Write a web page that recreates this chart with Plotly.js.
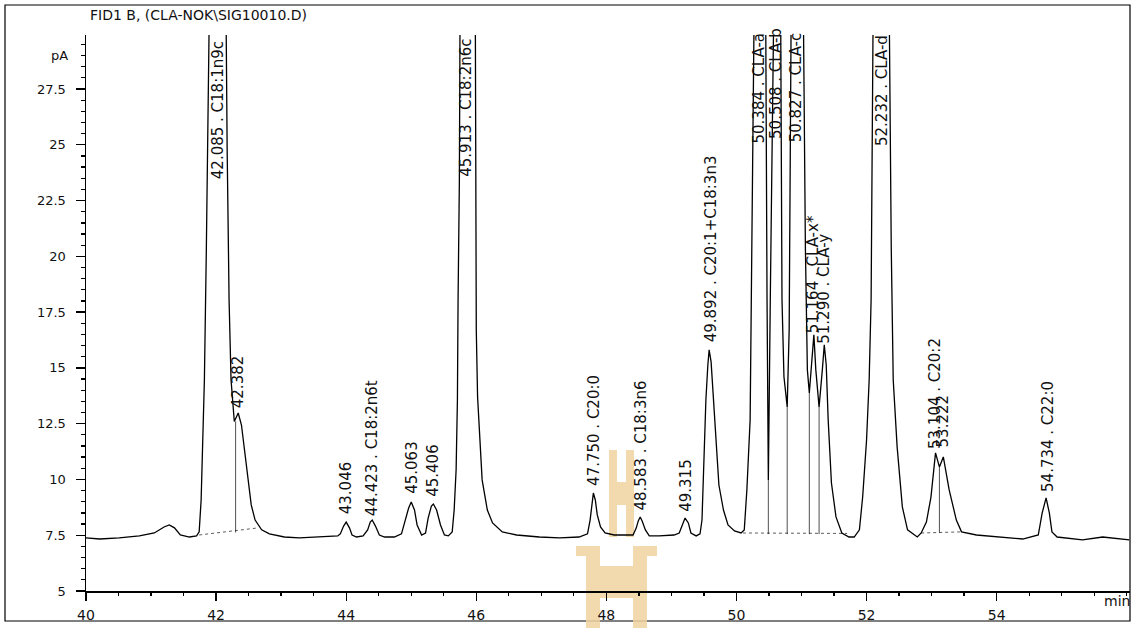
<!DOCTYPE html>
<html>
<head>
<meta charset="utf-8">
<script src="https://cdn.plot.ly/plotly-3.0.1.min.js"></script>
<style>html,body{margin:0;padding:0;background:#fff;}#chart{width:1133px;height:629px;}</style>
</head>
<body>
<div id="chart"></div>
<script>
// ---- data (time in min, signal in pA) ----
const retentionTime = [
40.00,40.21,40.51,40.82,41.05,41.20,41.28,41.36,41.45,41.59,41.70,
41.74,41.77,41.79,41.82,41.85,41.88,41.90,41.95,42.02,42.10,42.15,42.17,42.20,42.23,42.28,
42.34,42.39,42.44,42.48,42.54,42.60,42.70,42.82,43.05,43.28,43.59,43.87,
43.91,43.96,44.00,44.05,44.09,44.16,44.26,
44.33,44.37,44.40,44.45,44.51,44.59,44.74,44.85,
44.91,44.96,45.00,45.05,45.09,45.16,45.22,
45.26,45.31,45.34,45.39,45.45,45.51,45.57,
45.63,45.66,45.69,45.71,45.72,45.74,45.75,45.83,45.90,45.96,45.99,46.00,46.02,46.06,46.09,46.17,46.25,46.40,46.62,46.97,47.28,47.58,
47.71,47.75,47.78,47.80,47.83,47.86,47.91,47.98,48.12,48.27,48.41,
48.46,48.49,48.52,48.55,48.60,48.66,48.81,49.04,49.12,
49.17,49.21,49.26,49.30,49.38,49.44,
49.47,49.50,49.53,49.56,49.58,49.61,49.64,49.69,49.73,49.80,49.87,49.97,50.07,
50.12,50.16,50.21,50.24,50.27,50.35,50.45,50.47,50.49,50.52,50.54,50.61,50.68,50.70,50.73,50.78,
50.81,50.84,50.93,51.03,51.06,51.09,51.12,51.16,51.19,51.22,51.27,51.32,51.35,51.38,51.41,51.46,51.53,51.62,51.73,
51.81,51.89,51.94,52.00,52.04,52.07,52.10,52.20,52.28,52.35,52.38,52.41,52.47,52.55,52.63,52.78,
52.84,52.92,52.99,53.06,53.12,53.18,53.27,53.38,53.46,53.69,54.04,54.40,
54.64,54.70,54.76,54.81,54.85,54.93,55.32,55.63,56.04
];
const signalPA = [
7.38,7.33,7.38,7.47,7.60,7.87,7.96,7.83,7.51,7.42,7.47,
7.65,9.08,10.87,14.46,20.3,27.0,30.5,50,60,50,30.5,24.8,18.0,14.46,12.6,
12.98,12.44,11.3,10.2,8.86,8.18,7.74,7.56,7.42,7.38,7.42,7.47,
7.56,7.91,8.09,7.83,7.51,7.42,7.47,
7.74,8.09,8.18,7.91,7.51,7.42,7.42,7.56,
8.18,8.72,8.99,8.63,7.96,7.51,7.60,
8.27,8.81,8.90,8.63,7.96,7.51,7.47,
7.65,8.63,10.43,13.57,18.05,23.4,30.5,55,60,55,30.5,16.7,13.7,11.46,9.98,8.63,8.05,7.65,7.51,7.42,7.38,7.42,
7.56,8.18,9.08,9.39,9.08,8.41,7.87,7.60,7.51,7.51,7.51,
7.83,8.14,8.32,8.14,7.74,7.47,7.47,7.51,7.60,
8.00,8.27,8.05,7.60,7.47,7.56,
8.18,10.87,13.57,15.13,15.81,15.27,14.01,11.77,9.75,8.63,7.96,7.69,7.60,
7.74,9.53,12.67,20.3,30.5,45,30.5,18.05,9.98,18.05,30.5,40,30.5,18.05,14.6,13.25,
16.7,30.5,45,30.5,20.3,14.91,13.88,15.36,16.48,14.91,13.25,14.91,16.03,15.13,12.67,9.84,8.32,7.60,7.42,
7.42,7.74,9.21,11.77,14.46,18.05,30.5,60,60,30.5,20.3,14.46,11.46,8.77,7.74,7.42,
7.60,8.09,9.21,11.19,10.56,11.01,9.53,8.18,7.65,7.51,7.42,7.33,
7.51,8.50,9.17,8.50,7.65,7.42,7.29,7.42,7.29
];

// peak drop lines (time, valley signal, baseline signal)
const dropTime = [42.30, 50.49, 50.78, 51.12, 51.27, 53.12];
const dropTop  = [12.6, 9.98, 13.25, 13.88, 13.25, 10.56];
const dropBase = [7.62, 7.55, 7.55, 7.55, 7.55, 7.60];

// integration baselines (start time, start signal, end time, end signal)
const baseStartTime = [41.74, 50.10, 52.84];
const baseStartSig  = [7.51, 7.60, 7.60];
const baseEndTime   = [42.62, 51.70, 53.46];
const baseEndSig    = [7.82, 7.58, 7.65];

// peak annotations
const peakLabels = ["42.085 . C18:1n9c","42.382","43.046","44.423 . C18:2n6t","45.063","45.406",
  "45.913 . C18:2n6c","47.750 . C20:0","48.583 . C18:3n6","49.315","49.892 . C20:1+C18:3n3",
  "50.384 . CLA-a","50.508 . CLA-b","50.827 . CLA-c","51.164 . CLA-x*","51.290 . CLA-y",
  "52.232 . CLA-d","53.104 . C20:2","53.222","54.734 . C22:0"];
const labelTime = [42.02,42.33,44.01,44.40,45.00,45.34,45.85,47.80,48.54,49.23,49.60,
  50.35,50.61,50.92,51.19,51.35,52.23,53.06,53.19,54.78];
const labelSignal = [23.43,13.15,8.41,8.32,9.30,9.17,23.5,9.66,8.54,8.50,16.1,
  25.0,25.2,25.08,16.5,16.05,24.9,11.32,11.41,9.39];

const xTicks = [40,42,44,46,48,50,52,54];
const yTicks = [5,7.5,10,12.5,15,17.5,20,22.5,25,27.5];
const yTickText = ["5","7.5","10","12.5","15","17.5","20","22.5","25","27.5"];
const chartTitle = "FID1 B, (CLA-NOK\\SIG10010.D)";

// ---- build traces ----
const dropX = [], dropY = [];
dropTime.forEach((t, i) => { dropX.push(t, t, null); dropY.push(dropTop[i], dropBase[i], null); });
const baseX = [], baseY = [];
baseStartTime.forEach((t, i) => { baseX.push(t, baseEndTime[i], null); baseY.push(baseStartSig[i], baseEndSig[i], null); });

const traces = [
  {x: baseX, y: baseY, mode: 'lines', line: {color: '#333', width: 0.8, dash: 'dot'}, hoverinfo: 'skip'},
  {x: dropX, y: dropY, mode: 'lines', line: {color: '#222', width: 0.8}, hoverinfo: 'skip'},
  {x: retentionTime, y: signalPA, mode: 'lines', line: {color: '#000', width: 1.3}}
];

// geometry helpers for paper-referenced decorations
const L = 86, R = 3, T = 35, B = 38, W = 1133, H = 629;
const pw = W - L - R, ph = H - T - B;
const px = v => (v - L) / pw;
const py = v => (H - B - v) / ph;

const FONT = 'DejaVu Sans, Arial, sans-serif';
const annotations = peakLabels.map((txt, i) => ({
  x: labelTime[i], y: labelSignal[i], xref: 'x', yref: 'y',
  text: txt, textangle: -90, showarrow: false,
  xanchor: 'center', yanchor: 'bottom', borderpad: 0,
  font: {family: FONT, size: 15, color: '#111'}
}));
annotations.push({xref: 'paper', yref: 'paper', x: px(70), y: py(46), xanchor: 'right', text: 'pA', showarrow: false,
  font: {family: FONT, size: 13, color: '#111'}});
annotations.push({xref: 'paper', yref: 'paper', x: px(1132), y: py(611), xanchor: 'right', text: 'min', showarrow: false,
  font: {family: FONT, size: 14, color: '#111'}});

const wm = 'rgba(240,210,160,0.85)';
const rect = (x0, y0, x1, y1) => ({type: 'rect', xref: 'paper', yref: 'paper', x0: px(x0), x1: px(x1), y0: py(y1), y1: py(y0),
  fillcolor: wm, line: {width: 0}, layer: 'below'});
const shapes = [
  // outer frame
  {type: 'rect', xref: 'paper', yref: 'paper', x0: px(5), x1: px(1130), y0: py(621), y1: py(5),
   line: {color: '#000', width: 1.2}, fillcolor: 'rgba(0,0,0,0)', layer: 'below'},
  // watermark
  rect(609, 450, 617, 537), rect(626, 450, 634, 537), rect(617, 482, 626, 505),
  rect(576, 546, 600, 556), rect(586, 556, 600, 628),
  rect(633, 546, 657, 556), rect(633, 556, 647, 628), rect(600, 566, 633, 598)
];

const layout = {
  width: W, height: H,
  margin: {l: L, r: R, t: T, b: B, pad: 0},
  paper_bgcolor: '#fff', plot_bgcolor: 'rgba(0,0,0,0)',
  showlegend: false,
  title: {text: chartTitle, x: 90 / W, xanchor: 'left', xref: 'container', y: 1 - 15 / H, yanchor: 'middle',
          font: {family: FONT, size: 14, color: '#111'}},
  xaxis: {range: [40, 56.05], tickvals: xTicks, ticktext: xTicks.map(String),
          ticks: 'outside', ticklen: 8, tickwidth: 1.3, tickcolor: '#000',
          showline: true, linecolor: '#000', linewidth: 1.5, showgrid: false, zeroline: false,
          minor: {dtick: 0.5, tick0: 40, ticks: 'outside', ticklen: 3, tickcolor: '#000', showgrid: false},
          tickfont: {family: FONT, size: 14, color: '#111'}, ticklabelstandoff: 3},
  yaxis: {range: [5, 29.92], tickvals: yTicks, ticktext: yTickText,
          ticks: 'outside', ticklen: 9, tickwidth: 1.3, tickcolor: '#000',
          showline: true, linecolor: '#000', linewidth: 1.5, showgrid: false, zeroline: false,
          minor: {dtick: 0.5, tick0: 5, ticks: 'outside', ticklen: 4, tickcolor: '#000', showgrid: false},
          tickfont: {family: FONT, size: 13, color: '#111'}, ticklabelstandoff: 7},
  annotations: annotations,
  shapes: shapes
};

Plotly.newPlot('chart', traces, layout, {displayModeBar: false, staticPlot: true});
</script>
</body>
</html>
